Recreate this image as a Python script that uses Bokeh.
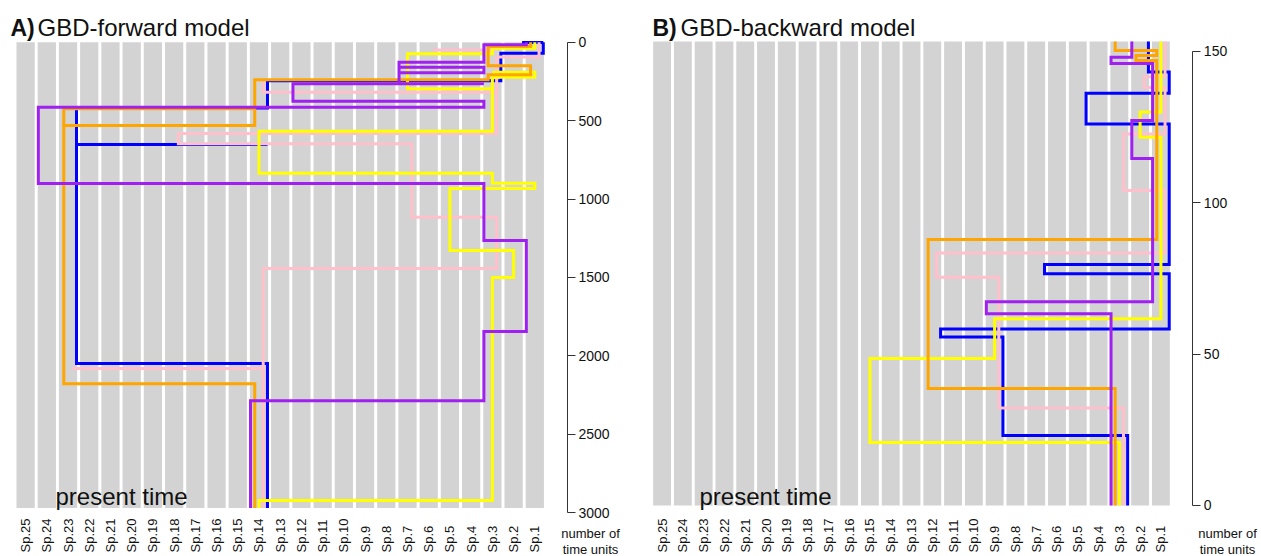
import numpy as np
from bokeh.plotting import figure
from bokeh.layouts import row
from bokeh.core.properties import value
from bokeh.models import Range1d, FixedTicker, Label, LabelSet, ColumnDataSource
from bokeh.embed import file_html
from bokeh.resources import INLINE

# ---------------------------------------------------------------- data
SPECIES = ["Sp.1", "Sp.2", "Sp.3", "Sp.4", "Sp.5", "Sp.6", "Sp.7", "Sp.8", "Sp.9",
           "Sp.10", "Sp.11", "Sp.12", "Sp.13", "Sp.14", "Sp.15", "Sp.16", "Sp.17",
           "Sp.18", "Sp.19", "Sp.20", "Sp.21", "Sp.22", "Sp.23", "Sp.24", "Sp.25"]
SPECIES_NUM = [1, 2, 3, 4, 5, 6, 7, 8, 9, 10, 11, 12, 13, 14, 15, 16, 17, 18, 19,
               20, 21, 22, 23, 24, 25]

# GBD-forward model: time counted from the origin (0) to the present (bottom)
FWD_PRESENT = 2970
FWD_TICKS = [0, 500, 1000, 1500, 2000, 2500, 3000]

# lineage paths as (species number, time) vertices
fwd_blue = [
    [(14, 2970), (14, 2048), (23, 2048), (23, 420), (14, 420), (14, 245), (3, 245),
     (3, 70), (1, 70), (1, 0)],
    [(23, 652), (14, 652)],
    [(2, 2), (1, 2)],
]
fwd_pink = [
    [(14, 2970), (14, 1443), (3, 1443), (3, 1116), (7, 1116), (7, 648), (18, 648),
     (18, 582), (3, 582), (3, 95), (1, 95), (1, 0)],
    [(23, 2080), (14, 2080)],
    [(14, 250), (14, 319), (3, 319)],
    [(6, 50), (3, 50)],
]
fwd_yellow = [
    [(14, 2970), (14, 2922), (3, 2922), (3, 1500), (2, 1500), (2, 1328), (5, 1328),
     (5, 933), (1, 933), (1, 899), (3, 899), (3, 835), (14, 835), (14, 567), (3, 567),
     (3, 297), (7, 297), (7, 74), (3, 74), (3, 38), (1, 38), (1, 0)],
    [(3, 297), (3, 223), (1, 223), (1, 191), (3, 191)],
]
fwd_orange = [
    [(14, 2970), (14, 2178), (23, 2178), (23, 531), (14, 531), (14, 240), (3, 240),
     (3, 208), (1, 208), (1, 150), (3, 150), (3, 28), (1, 28), (1, 0)],
    [(23, 531), (23, 424), (14, 424)],
]
fwd_purple = [
    [(14, 2970), (14, 2285), (3, 2285), (3, 1844), (1, 1844), (1, 1264), (3, 1264),
     (3, 900), (24, 900), (24, 414), (3, 414), (3, 376), (12, 376), (12, 265), (3, 265)],
    [(7, 265), (7, 128), (3, 128), (3, 17), (1, 17), (1, 0)],
    [(7, 195), (3, 195), (3, 160), (7, 160)],
]

# GBD-backward model: time counted back from the present (0)
BWD_TOP = 153.2
BWD_TICKS = [0, 50, 100, 150]

bwd_blue = [
    [(3, 0), (3, 23.1), (9, 23.1), (9, 55.6), (12, 55.6), (12, 58.3), (1, 58.3),
     (1, 76.5), (7, 76.5), (7, 79.6), (1, 79.6), (1, 126), (5, 126), (5, 136.1),
     (1, 136.1), (1, 143.1), (2, 143.1), (2, 153.2)],
]
bwd_pink = [
    [(3, 0), (3, 32.2), (9, 32.2), (9, 75.4), (12, 75.4), (12, 83.4), (1, 83.4),
     (1, 104), (3, 104), (3, 122.7), (1, 122.7), (1, 138), (2, 138), (2, 141.6),
     (1, 141.6), (1, 153.2)],
]
bwd_yellow = [
    [(3, 0), (3, 20.8), (15, 20.8), (15, 48.5), (9, 48.5), (9, 61.7), (1, 61.7),
     (1, 121.6), (2, 121.6), (2, 129.9), (1, 129.9), (1, 153.2)],
]
bwd_orange = [
    [(3, 0), (3, 38.6), (12, 38.6), (12, 87.8), (1, 87.8), (1, 146.9), (2, 146.9),
     (2, 148.6), (1, 148.6), (1, 150.2), (3, 150.2), (3, 153.2)],
]
bwd_purple = [
    [(3, 0), (3, 63.3), (9, 63.3), (9, 67.3), (1, 67.3), (1, 114.6), (2, 114.6),
     (2, 127.1), (1, 127.1), (1, 145.9), (3, 145.9), (3, 148), (2, 148), (2, 153.2)],
]

# ---------------------------------------------------------------- styling
LINEAGE_COLOR = {"blue": "#0000FF", "pink": "#FFC0CB", "yellow": "#FFFF00",
                 "orange": "#FFA500", "purple": "#A020F0"}
# each lineage runs in its own lane inside a species column
LANE = {"purple": -0.4, "orange": -0.2, "yellow": 0.0, "pink": 0.2, "blue": 0.4}
DRAW_ORDER = ["blue", "pink", "yellow", "orange", "purple"]

FONT = "Liberation Sans"
INK = "#111111"
N = len(SPECIES)
H = 556
X_RANGE = (-0.183, 29.84)   # columns are one unit apart
AXIS_X = 26.537             # data x where the time axis is drawn


def column_of(sp):
    # Sp.25 on the left, Sp.1 on the right
    return N + 1 - sp


def screen_label(text, x, y, size, **kw):
    return Label(x=x, y=y, x_units="screen", y_units="screen", text=text,
                 text_font=FONT, text_font_size=size, text_color=INK,
                 text_baseline="alphabetic", **kw)


def make_panel(width, y_range, ticks, bounds, col_top, lineages, tag, title,
               tag_x, title_x, present_x):
    p = figure(width=width, height=H, x_range=Range1d(*X_RANGE), y_range=y_range,
               x_axis_location=None, y_axis_location="right", title=None,
               output_backend="svg", toolbar_location=None,
               min_border=0, min_border_left=0, min_border_right=0,
               min_border_top=0, min_border_bottom=0)
    p.grid.visible = False
    p.outline_line_color = None
    p.background_fill_color = "white"
    p.border_fill_color = "white"

    ax = p.yaxis[0]
    ax.fixed_location = AXIS_X
    ax.ticker = FixedTicker(ticks=ticks)
    ax.bounds = bounds
    ax.axis_line_color = "#333333"
    ax.major_tick_line_color = "#333333"
    ax.major_tick_in = 0
    ax.major_tick_out = 8
    ax.minor_tick_line_color = None
    ax.major_label_standoff = 3
    ax.major_label_text_font = FONT
    ax.major_label_text_font_size = "14px"
    ax.major_label_text_color = INK

    cols = [column_of(s) for s in SPECIES_NUM]
    p.vbar(x=cols, width=0.86, bottom=0, top=col_top,
           fill_color="#D3D3D3", line_color=None)

    for name in DRAW_ORDER:
        xs, ys = [], []
        for path in lineages[name]:
            xs.append([column_of(s) + LANE[name] for s, _ in path])
            ys.append([t for _, t in path])
        p.multi_line(xs, ys, line_color=LINEAGE_COLOR[name], line_width=3,
                     line_join="miter", line_cap="butt")

    src = ColumnDataSource(dict(x=cols, name=SPECIES))
    p.add_layout(LabelSet(x="x", y=4, y_units="screen", text="name", source=src,
                          angle=np.pi / 2, text_align="left", text_baseline="middle",
                          text_font=value(FONT), text_font_size=value("13px"),
                          text_color=INK))

    p.add_layout(screen_label("number of", 590, 23, "13px", text_align="center"))
    p.add_layout(screen_label("time units", 590, 7, "13px", text_align="center"))
    p.add_layout(screen_label("present time", present_x, 60, "24px"))
    p.add_layout(screen_label(tag, tag_x, 529, "23px", text_font_style="bold"))
    p.add_layout(screen_label(title, title_x, 529, "24px"))
    return p


fwd = dict(blue=fwd_blue, pink=fwd_pink, yellow=fwd_yellow, orange=fwd_orange,
           purple=fwd_purple)
bwd = dict(blue=bwd_blue, pink=bwd_pink, yellow=bwd_yellow, orange=bwd_orange,
           purple=bwd_purple)

pA = make_panel(637, Range1d(3278.6, -265.8), FWD_TICKS, (0, 3000), FWD_PRESENT, fwd,
                "A)", "GBD-forward model", 10, 37, 55)
pB = make_panel(624, Range1d(-16.84, 166.74), BWD_TICKS, (0, 150), BWD_TOP, bwd,
                "B)", "GBD-backward model", 15, 43, 62)

layout = row(pA, pB)
open("out.html", "w").write(file_html(layout, INLINE))
